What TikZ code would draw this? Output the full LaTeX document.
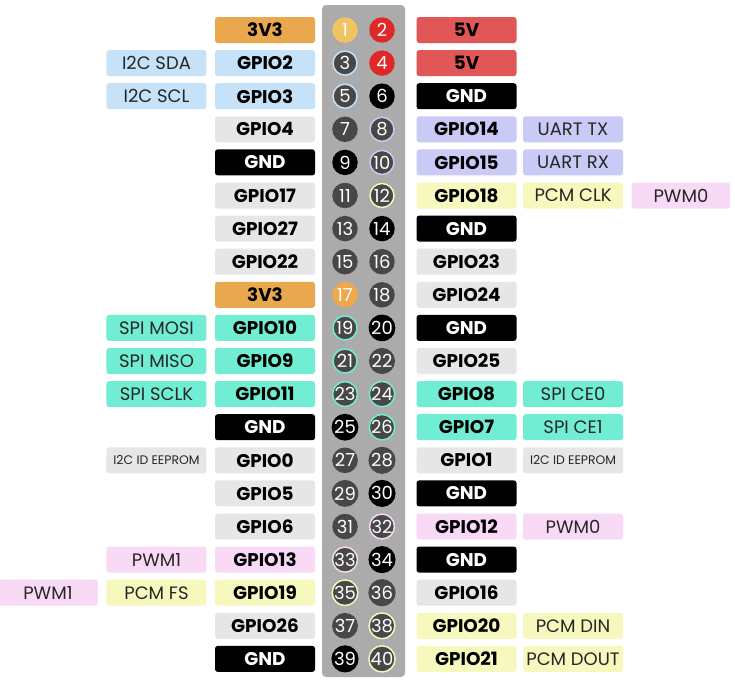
\documentclass[tikz,border=0pt]{standalone}
\usepackage{fontspec}
\setmainfont{Poppins}
\usepackage{tikz}
\usetikzlibrary{positioning}

\definecolor{powerlo}{HTML}{E9A84E}
\definecolor{powerhi}{HTML}{E15656}
\definecolor{ibus}{HTML}{C5E2F8}
\definecolor{uart}{HTML}{CACAF6}
\definecolor{pcm}{HTML}{F6F8BE}
\definecolor{pwm}{HTML}{F9DAF6}
\definecolor{spi}{HTML}{70EDD2}
\definecolor{plain}{HTML}{E6E6E6}
\definecolor{header}{HTML}{ABABAB}
\definecolor{pinbody}{HTML}{474747}
\definecolor{pinone}{HTML}{F1C462}
\definecolor{pinred}{HTML}{E02828}
\definecolor{pinorange}{HTML}{EFA84A}
\definecolor{labeltext}{HTML}{262626}

\begin{document}
\begin{tikzpicture}[
  x=0.75pt, y=-0.75pt,
  tag/.style={rounded corners=2pt, minimum width=75pt, minimum height=19.5pt, inner sep=0pt, text=labeltext, font=\fontsize{13.5}{15}\selectfont},
  gpio/.style={tag, font=\fontsize{13.8}{15}\selectfont\bfseries},
  eeprom/.style={tag, fill=plain, font=\fontsize{9.3}{10}\selectfont},
  pin/.style={circle, minimum size=18pt, inner sep=0pt, line width=1.1pt, text=white, font=\fontsize{13.5}{14}\selectfont}
]
  \useasboundingbox (0,0) rectangle (735,682);

  % Header strip
  \fill[header, rounded corners=3pt] (322,5) rectangle (405,677);

  % Pins
  \foreach \n/\fc/\rc in {1/pinone/pinone, 2/pinred/pinred, 3/pinbody/ibus, 4/pinred/pinred,
      5/pinbody/ibus, 6/black/black, 7/pinbody/pinbody, 8/pinbody/uart, 9/black/black,
      10/pinbody/uart, 11/pinbody/pinbody, 12/pinbody/pcm, 13/pinbody/pinbody, 14/black/black,
      15/pinbody/pinbody, 16/pinbody/pinbody, 17/pinorange/pinorange, 18/pinbody/pinbody,
      19/pinbody/spi, 20/black/black, 21/pinbody/spi, 22/pinbody/pinbody, 23/pinbody/spi,
      24/pinbody/spi, 25/black/black, 26/pinbody/spi, 27/pinbody/pinbody, 28/pinbody/pinbody,
      29/pinbody/pinbody, 30/black/black, 31/pinbody/pinbody, 32/pinbody/pwm, 33/pinbody/pwm,
      34/black/black, 35/pinbody/pcm, 36/pinbody/pinbody, 37/pinbody/pinbody, 38/pinbody/pcm,
      39/black/black, 40/pinbody/pcm} {
    \pgfmathtruncatemacro\row{(\n+1)/2}
    \pgfmathsetmacro\px{ifthenelse(mod(\n,2)==1,345,382)}
    \node[pin, fill=\fc, draw=\rc] (p\n) at (\px, {30+(\row-1)*33.1}) {\n};
  }

  % Left GPIO column
  \foreach \r/\txt/\fc/\tc in {1/3V3/powerlo/black, 2/GPIO2/ibus/black, 3/GPIO3/ibus/black,
      4/GPIO4/plain/black, 5/GND/black/white, 6/GPIO17/plain/black, 7/GPIO27/plain/black,
      8/GPIO22/plain/black, 9/3V3/powerlo/black, 10/GPIO10/spi/black, 11/GPIO9/spi/black,
      12/GPIO11/spi/black, 13/GND/black/white, 14/GPIO0/plain/black, 15/GPIO5/plain/black,
      16/GPIO6/plain/black, 17/GPIO13/pwm/black, 18/GPIO19/pcm/black, 19/GPIO26/plain/black,
      20/GND/black/white} {
    \node[gpio, fill=\fc, text=\tc] (gl\r) at (265, {30+(\r-1)*33.1}) {\txt};
  }

  % Right GPIO column
  \foreach \r/\txt/\fc/\tc in {1/5V/powerhi/black, 2/5V/powerhi/black, 3/GND/black/white,
      4/GPIO14/uart/black, 5/GPIO15/uart/black, 6/GPIO18/pcm/black, 7/GND/black/white,
      8/GPIO23/plain/black, 9/GPIO24/plain/black, 10/GND/black/white, 11/GPIO25/plain/black,
      12/GPIO8/spi/black, 13/GPIO7/spi/black, 14/GPIO1/plain/black, 15/GND/black/white,
      16/GPIO12/pwm/black, 17/GND/black/white, 18/GPIO16/plain/black, 19/GPIO20/pcm/black,
      20/GPIO21/pcm/black} {
    \node[gpio, fill=\fc, text=\tc] (gr\r) at (466.5, {30+(\r-1)*33.1}) {\txt};
  }

  % Left functions
  \foreach \r/\txt/\fc in {2/I2C SDA/ibus, 3/I2C SCL/ibus, 10/SPI MOSI/spi, 11/SPI MISO/spi,
      12/SPI SCLK/spi, 17/PWM1/pwm, 18/PCM FS/pcm} {
    \node[tag, fill=\fc, left=6pt of gl\r] (fl\r) {\txt};
  }
  \node[eeprom, left=6pt of gl14] (fl14) {I2C ID EEPROM};
  \node[tag, fill=pwm, left=6pt of fl18] (xl18) {PWM1};

  % Right functions
  \foreach \r/\txt/\fc in {4/UART TX/uart, 5/UART RX/uart, 6/PCM CLK/pcm, 12/SPI CE0/spi,
      13/SPI CE1/spi, 16/PWM0/pwm, 19/PCM DIN/pcm, 20/PCM DOUT/pcm} {
    \node[tag, fill=\fc, right=4.5pt of gr\r] (fr\r) {\txt};
  }
  \node[eeprom, right=4.5pt of gr14] (fr14) {I2C ID EEPROM};
  \node[tag, fill=pwm, minimum width=74pt, right=6pt of fr6] (xr6) {PWM0};

\end{tikzpicture}
\end{document}
